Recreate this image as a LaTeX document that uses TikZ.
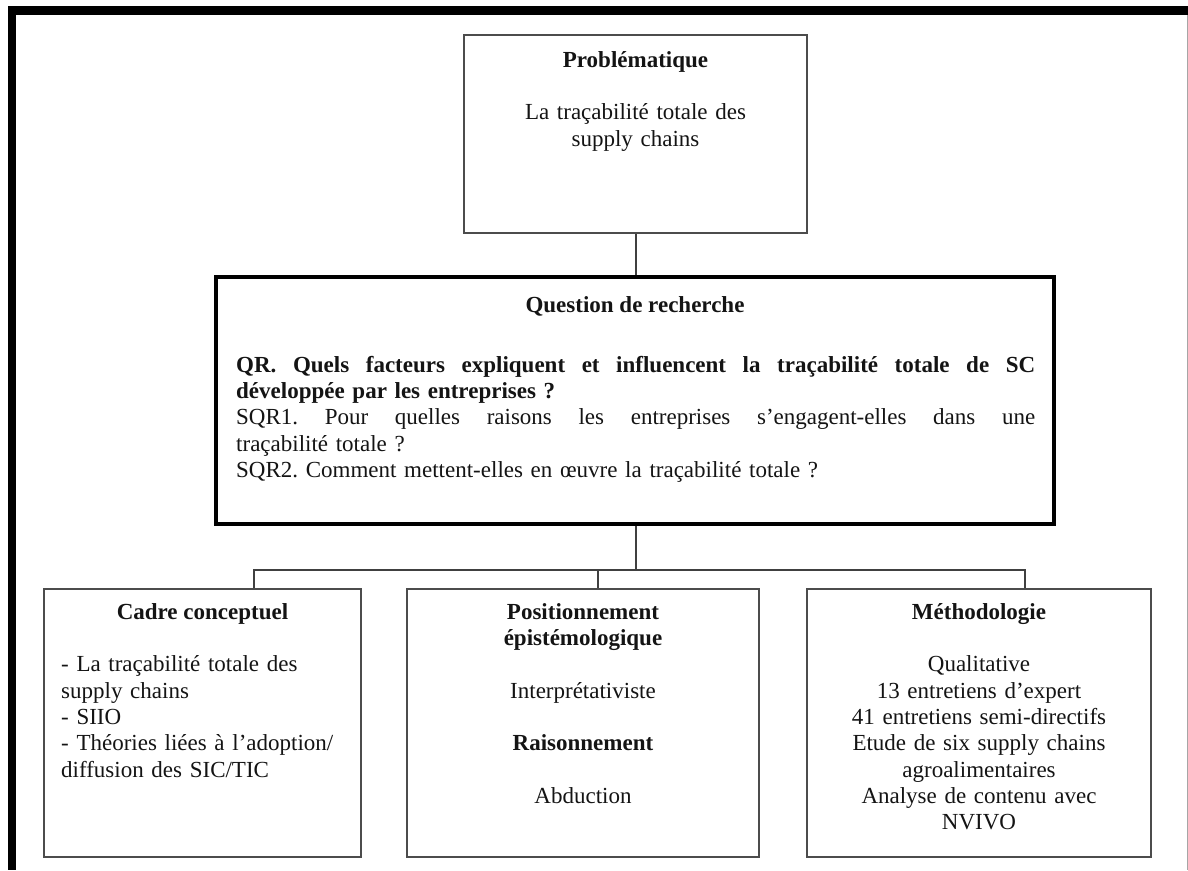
\documentclass[tikz,border=0pt]{standalone}
\usepackage{fontspec}
\setmainfont{Liberation Serif}
% one line spread to the full measure of the research-question block
\newcommand\fullline[1]{\leavevmode\hbox to 799pt{\spaceskip=\fontdimen2\font plus 1fil\relax #1}}
\begin{document}
\frenchspacing
\begin{tikzpicture}[x=1pt,y=-1pt,
  ink/.style={text=black!92},
  txt/.style={ink,font=\fontsize{23}{26.3}\selectfont\frenchspacing,inner sep=0pt},
  thinbox/.style={draw=black!70,line width=1.8pt,inner sep=0pt,rectangle},
  thickbox/.style={draw=black,line width=4pt,inner sep=0pt,rectangle},
  conn/.style={draw=black!75,line width=1.5pt}]
\useasboundingbox (0,0) rectangle (1188,870);
\fill[white] (0,0) rectangle (1188,870);

% page frame
\fill[black] (8,6) rectangle (1188,15);
\fill[black] (8,6) rectangle (16,870);
\draw[black!35,line width=1pt] (1187,15) -- (1187,870);

% boxes
\node[thinbox,minimum width=343pt,minimum height=198pt] (prob) at (635.5,134) {};
\node[thickbox,minimum width=838pt,minimum height=247pt] (quest) at (635,400.5) {};
\node[thinbox,minimum width=317pt,minimum height=268pt] (cadre) at (202.5,723) {};
\node[thinbox,minimum width=352pt,minimum height=268pt] (posit) at (583,723) {};
\node[thinbox,minimum width=344pt,minimum height=268pt] (metho) at (979,723) {};

% connectors
\coordinate (busL) at (254,570);
\coordinate (busQ) at (636,570);
\coordinate (busM) at (598,570);
\coordinate (busR) at (1025,570);
\draw[conn] (prob.south -| busQ) -- (quest.north -| busQ);
\draw[conn] (quest.south -| busQ) -- (busQ);
\draw[conn] (cadre.north -| busL) -- (busL) -- (busR) -- (metho.north -| busR);
\draw[conn] (busM) -- (posit.north -| busM);

% texts
\node[txt,anchor=north,text width=330pt,align=center] (probtxt) at (635.5,48.6)
  {\strut\textbf{Problématique}\\[26.3pt]La traçabilité totale des\\supply chains};

\node[txt,anchor=base] (questtitle) at (635,312) {\textbf{Question de recherche}};
\node[txt,anchor=north west,text width=799pt,align=left] (questtxt) at (236,353.6)
  {\strut\textbf{\fullline{QR. Quels facteurs expliquent et influencent la traçabilité totale de SC}}\\
   \textbf{développée par les entreprises ?}\\
   \fullline{SQR1. Pour quelles raisons les entreprises s’engagent-elles dans une}\\
   traçabilité totale ?\\
   SQR2. Comment mettent-elles en œuvre la traçabilité totale ?};

\node[txt,anchor=base] (cadretitle) at (202.5,619) {\textbf{Cadre conceptuel}};
\node[txt,anchor=north west,text width=295pt,align=left] (cadretxt) at (61,653.2)
  {\strut - La traçabilité totale des\\supply chains\\- SIIO\\- Théories liées à l’adoption/\\diffusion des SIC/TIC};

\node[txt,anchor=north,text width=340pt,align=center] (posittxt) at (583,600.6)
  {\strut\textbf{Positionnement}\\\textbf{épistémologique}\\[26.3pt]Interprétativiste\\[26.3pt]\textbf{Raisonnement}\\[26.3pt]Abduction};

\node[txt,anchor=north,text width=340pt,align=center] (methotxt) at (979,600.6)
  {\strut\textbf{Méthodologie}\\[26.3pt]Qualitative\\13 entretiens d’expert\\41 entretiens semi-directifs\\Etude de six supply chains\\agroalimentaires\\Analyse de contenu avec\\NVIVO};
\end{tikzpicture}
\end{document}
